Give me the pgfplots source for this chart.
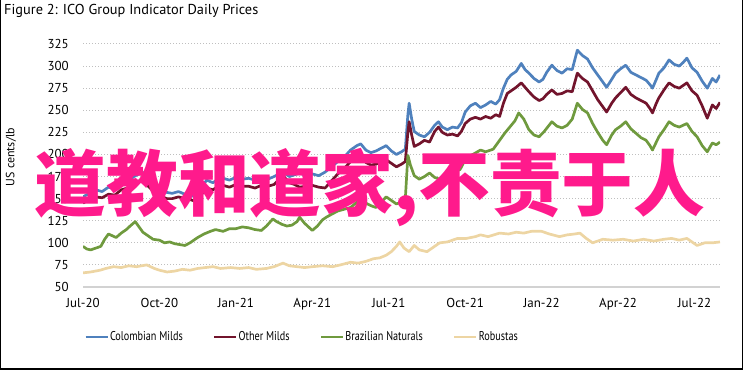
\documentclass[border=0pt]{standalone}
\usepackage{fontspec}
\setmainfont{PT Sans}
\newfontfamily\narrow[FakeStretch=0.8]{PT Sans}
\newfontfamily\cjk{Noto Sans CJK SC}
\usepackage{pgfplots}
\usepackage{pgfplotstable}
\pgfplotsset{compat=1.18}

\definecolor{cmild}{HTML}{4F81BD}
\definecolor{omild}{HTML}{72142C}
\definecolor{bnat}{HTML}{6F9A3E}
\definecolor{rob}{HTML}{EDD5A3}
\definecolor{wm}{HTML}{FF1A8C}
\definecolor{gridc}{HTML}{BFBFBF}

% x = months since 1 Jul 2020
\pgfplotstableread{
m v
0.00 152
0.25 156
0.50 160
0.75 158
1.00 163
1.25 161
1.50 168
1.75 170
2.00 175
2.20 178
2.35 180
2.50 172
2.70 167
2.90 162
3.10 159
3.30 157
3.50 156
3.75 158
4.00 155
4.20 154
4.40 152
4.60 160
4.85 171
5.10 168
5.30 172
5.50 173
5.75 171
6.00 174
6.25 172
6.50 173
6.75 171
7.00 174
7.25 172
7.50 175
7.70 178
7.85 180
8.10 175
8.30 177
8.50 179
8.75 176
9.00 178
9.25 176
9.50 180
9.75 186
10.00 192
10.25 197
10.50 205
10.75 210
10.90 212
11.10 205
11.30 202
11.50 204
11.70 207
11.90 210
12.10 204
12.30 200
12.50 203
12.65 206
12.75 245
12.80 258
12.90 240
13.00 226
13.20 222
13.40 220
13.60 225
13.80 233
13.95 237
14.10 231
14.30 228
14.50 231
14.70 230
14.85 236
15.00 248
15.20 255
15.40 258
15.60 253
15.80 256
16.00 260
16.20 257
16.35 262
16.50 275
16.65 285
16.80 290
17.00 294
17.20 303
17.35 296
17.50 292
17.70 286
17.90 282
18.05 285
18.20 293
18.40 301
18.60 295
18.80 292
19.00 297
19.20 296
19.40 318
19.60 312
19.80 308
20.00 298
20.20 290
20.40 282
20.55 276
20.75 285
20.90 292
21.10 297
21.30 301
21.50 293
21.70 290
21.90 287
22.10 284
22.25 279
22.35 275
22.50 285
22.60 292
22.80 298
23.00 307
23.20 302
23.40 300
23.55 304
23.70 309
23.90 298
24.10 293
24.30 283
24.50 275
24.70 286
24.85 282
25.00 290
}\colombian

\pgfplotstableread{
m v
0.00 145
0.25 149
0.50 152
0.75 151
1.00 155
1.25 154
1.50 160
1.75 162
2.00 167
2.20 170
2.35 172
2.50 166
2.70 160
2.90 155
3.10 152
3.30 150
3.50 150
3.75 152
4.00 150
4.20 149
4.40 147
4.60 153
4.85 162
5.10 160
5.30 164
5.50 165
5.75 163
6.00 166
6.25 164
6.50 164
6.75 162
7.00 165
7.25 164
7.50 166
7.70 172
7.85 176
8.10 168
8.30 166
8.50 163
8.75 164
9.00 165
9.25 163
9.50 162
9.75 170
10.00 178
10.25 184
10.50 192
10.75 196
10.90 197
11.10 191
11.30 188
11.50 189
11.70 192
11.90 194
12.10 190
12.30 186
12.50 189
12.65 192
12.75 225
12.80 237
12.90 222
13.00 209
13.20 212
13.40 216
13.60 214
13.80 226
13.95 231
14.10 225
14.30 222
14.50 223
14.70 221
14.85 226
15.00 235
15.20 240
15.40 242
15.60 240
15.80 243
16.00 241
16.20 245
16.35 243
16.50 258
16.65 269
16.80 272
17.00 276
17.20 281
17.35 276
17.50 271
17.70 265
17.90 261
18.05 263
18.20 268
18.40 273
18.60 268
18.80 269
19.00 272
19.20 271
19.40 292
19.60 286
19.80 282
20.00 272
20.20 262
20.40 254
20.55 248
20.75 258
20.90 264
21.10 270
21.30 276
21.50 268
21.70 264
21.90 261
22.10 258
22.25 252
22.35 247
22.50 258
22.60 264
22.80 273
23.00 281
23.20 277
23.40 275
23.55 278
23.70 281
23.90 272
24.10 267
24.30 255
24.50 241
24.70 256
24.85 252
25.00 259
}\othermilds

\pgfplotstableread{
m v
0.00 96
0.15 93
0.30 92
0.50 94
0.70 96
0.85 104
1.00 110
1.15 108
1.30 106
1.50 111
1.70 115
1.85 119
2.05 124
2.20 118
2.35 112
2.55 108
2.75 104
3.00 103
3.20 100
3.40 101
3.60 99
3.80 98
4.00 97
4.20 100
4.50 106
4.75 110
5.00 113
5.20 115
5.50 113
5.75 116
6.00 116
6.25 118
6.50 117
6.75 115
7.00 114
7.20 119
7.45 127
7.60 124
7.80 121
8.00 119
8.20 120
8.40 124
8.50 129
8.70 122
9.00 114
9.20 119
9.40 126
9.55 129
9.80 133
10.00 136
10.25 138
10.50 140
10.75 146
10.90 152
11.10 145
11.30 142
11.50 140
11.70 146
11.90 152
12.10 148
12.30 144
12.50 146
12.65 150
12.75 199
12.85 188
13.00 176
13.20 172
13.40 175
13.60 179
13.80 174
14.00 172
14.20 178
14.40 182
14.60 181
14.80 183
15.05 197
15.30 200
15.60 205
15.80 203
16.10 206
16.35 216
16.55 224
16.75 231
16.95 238
17.10 247
17.30 240
17.50 228
17.70 222
17.90 220
18.10 226
18.40 237
18.60 232
18.80 230
19.00 233
19.20 240
19.40 258
19.60 251
19.80 247
20.00 235
20.20 225
20.40 216
20.55 211
20.75 222
20.90 228
21.10 232
21.30 237
21.50 229
21.70 224
21.90 219
22.10 216
22.25 210
22.35 205
22.50 214
22.60 220
22.80 228
23.00 237
23.20 233
23.40 231
23.55 233
23.70 235
23.90 226
24.10 220
24.30 210
24.50 203
24.70 213
24.85 211
25.00 214
}\brazilian

\pgfplotstableread{
m v
0.00 66
0.30 67
0.67 69
0.90 71
1.20 73
1.50 72
1.80 74
2.10 73
2.50 75
2.80 71
3.00 69
3.30 67
3.60 68
3.90 70
4.20 69
4.50 71
4.80 72
5.10 73
5.40 71
5.80 72
6.15 71
6.50 72
6.80 70
7.20 71
7.50 73
7.85 77
8.10 74
8.40 73
8.70 72
9.00 73
9.40 74
9.80 73
10.10 75
10.50 78
10.80 77
11.10 79
11.40 82
11.65 83
11.90 86
12.10 90
12.30 96
12.43 101
12.60 94
12.80 90
13.00 97
13.20 92
13.50 90
13.75 95
14.00 100
14.30 101
14.70 105
15.05 105
15.40 107
15.60 109
15.90 107
16.35 111
16.70 110
17.00 112
17.30 111
17.60 113
18.00 113
18.30 110
18.70 107
19.00 109
19.30 110
19.50 111
19.75 105
20.00 100
20.20 102
20.40 104
20.80 103
21.20 104
21.60 102
22.00 104
22.40 102
22.80 104
23.10 105
23.40 103
23.70 105
24.10 97
24.40 100
24.70 100
25.00 101
}\robustas

\begin{document}
\begin{tikzpicture}[x=1bp,y=1bp]
\useasboundingbox (0,0) rectangle (751,370);
\draw[black, line width=1.5bp] (0.75,370) -- (0.75,1) -- (742.5,1) -- (742.5,370);
\node[anchor=west, inner sep=0pt, font=\fontsize{14.4}{14.4}\selectfont] at (4,359) {Figure 2: ICO Group Indicator Daily Prices};

\begin{axis}[
  at={(83bp,83bp)}, anchor=south west,
  scale only axis, width=637bp, height=243bp,
  xmin=0, xmax=25, ymin=50, ymax=325,
  enlargelimits=false,
  ytick={50,75,...,325},
  xtick={0,3,...,24},
  xticklabels={Jul-20,Oct-20,Jan-21,Apr-21,Jul-21,Oct-21,Jan-22,Apr-22,Jul-22},
  major tick length=0pt,
  axis x line*=bottom, axis y line*=left,
  x axis line style={draw=gray!35, line width=1.5bp, -},
  y axis line style={draw=none},
  ymajorgrids,
  grid style={draw=gridc, line width=1bp, dash pattern=on 1.2bp off 1.8bp},
  tick label style={font=\fontsize{13}{13}\selectfont},
  /pgf/number format/assume math mode=true,
  yticklabel style={anchor=east, inner sep=0pt, xshift=-14bp},
  xticklabel style={anchor=north, inner sep=0pt, yshift=-11bp},
  ylabel={US cents/lb},
  every axis y label/.style={at={(axis description cs:-0.113,0.535)}, rotate=90, anchor=center, font=\fontsize{12}{12}\selectfont},
  legend columns=4,
  legend style={at={(axis description cs:0.0016,-0.2058)}, anchor=west, draw=none, fill=none, inner sep=0pt,
    font=\narrow\fontsize{12.8}{12.8}\selectfont,
    nodes={inner sep=1bp},
    /tikz/every even column/.append style={column sep=29bp}},
  legend image code/.code={\draw[#1, line width=2.8bp] (0bp,0bp) -- (22bp,0bp);},
  no markers,
  every axis plot/.append style={line width=2.7bp, line join=round},
]
\addplot[cmild] table[x=m,y=v]{\colombian};
\addlegendentry{Colombian Milds}
\addplot[omild] table[x=m,y=v]{\othermilds};
\addlegendentry{Other Milds}
\addplot[bnat] table[x=m,y=v]{\brazilian};
\addlegendentry{Brazilian Naturals}
\addplot[rob] table[x=m,y=v]{\robustas};
\addlegendentry{Robustas}
\end{axis}

\node[text=wm, inner sep=0pt, font=\cjk\bfseries\fontsize{72}{72}\selectfont] at (370,182) {道教和道家,不责于人};
\end{tikzpicture}
\end{document}
